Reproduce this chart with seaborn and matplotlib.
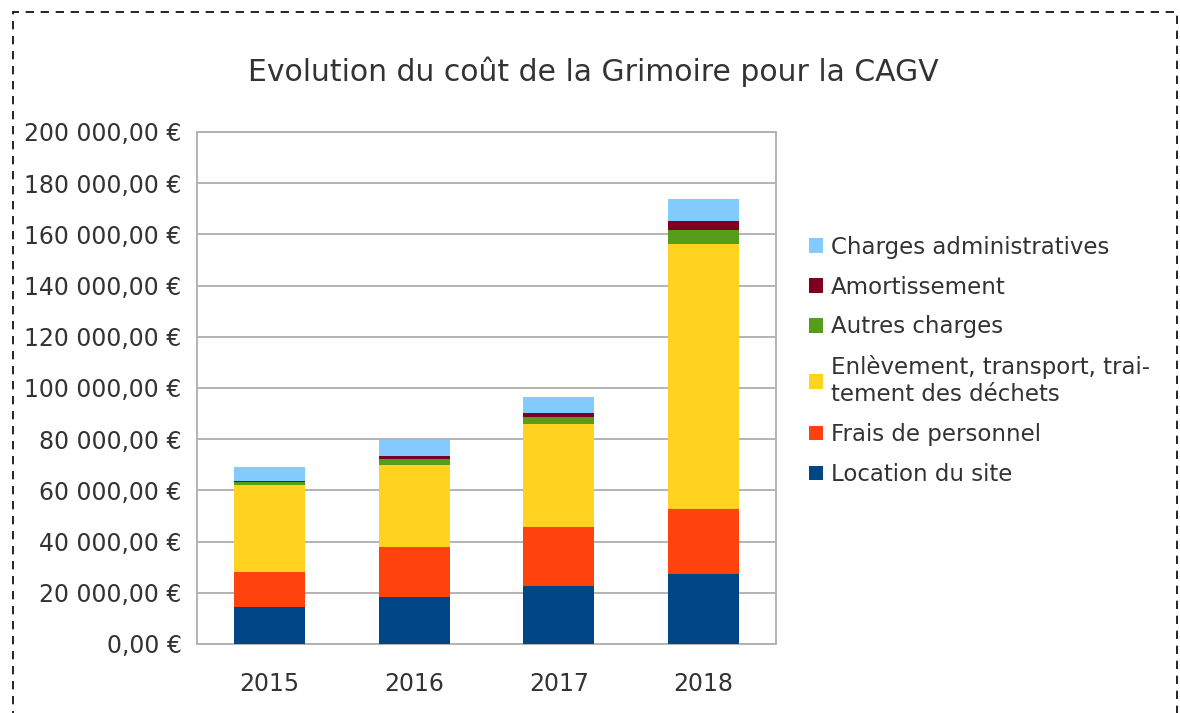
import numpy as np
import pandas as pd
import matplotlib
matplotlib.use("Agg")
import matplotlib.pyplot as plt
import seaborn as sns
from matplotlib.patches import Patch, Rectangle
from matplotlib.ticker import FuncFormatter, FixedLocator

# données (en euros)
annees = ["2015", "2016", "2017", "2018"]
location_site = [14350, 18500, 22550, 27400]
frais_personnel = [13650, 19500, 23250, 25300]
enlevement_dechets = [34200, 31900, 40100, 103600]
autres_charges = [1000, 2300, 2800, 5600]
amortissement = [600, 1300, 1500, 3500]
charges_admin = [5400, 6250, 6450, 8600]

series = ["Location du site", "Frais de personnel",
          "Enlèvement, transport, trai-\ntement des déchets",
          "Autres charges", "Amortissement", "Charges administratives"]
valeurs = [location_site, frais_personnel, enlevement_dechets,
           autres_charges, amortissement, charges_admin]
couleurs = ["#004586", "#ff420e", "#ffd320", "#579d1c", "#7e0021", "#83caff"]

sns.set_style("white")
plt.rcParams["font.family"] = ["DejaVu Sans"]

fig = plt.figure(figsize=(11.8, 7.13), dpi=100)
ax = fig.add_axes([0.1669, 0.0968, 0.4907, 0.7181])

# empilement : on dessine les cumuls du plus haut au plus bas
cumuls = np.cumsum(np.array(valeurs), axis=0)
for i in range(len(series) - 1, -1, -1):
    df = pd.DataFrame({"annee": annees, "cumul": cumuls[i]})
    sns.barplot(data=df, x="annee", y="cumul", color=couleurs[i],
                saturation=1, width=0.49, ax=ax, zorder=3,
                edgecolor="none", linewidth=0)

gris = "#b3b3b3"
ax.set_ylim(0, 200000)
ax.set_xlim(-0.5, 3.5)
ax.yaxis.set_major_locator(FixedLocator(np.arange(0, 200001, 20000)))
ax.yaxis.set_major_formatter(FuncFormatter(
    lambda v, p: f"{v:,.2f}".replace(",", " ").replace(".", ",") + " €"))
ax.grid(axis="y", color=gris, linewidth=1.4, zorder=0)
ax.set_axisbelow(True)
for s in ax.spines.values():
    s.set_color(gris)
    s.set_linewidth(1.4)
ax.set_xlabel("")
ax.set_ylabel("")
ax.tick_params(axis="y", which="major", length=9, width=1.2, color=gris,
               labelsize=17, labelcolor="#333333", pad=2)
ax.xaxis.set_minor_locator(FixedLocator([-0.5, 0.5, 1.5, 2.5, 3.5]))
ax.tick_params(axis="x", which="minor", length=9, width=1.2, color=gris)
ax.tick_params(axis="x", which="major", length=0, labelsize=17,
               labelcolor="#333333", pad=20)

fig.text(0.503, 0.9, "Evolution du coût de la Grimoire pour la CAGV",
         ha="center", va="center", fontsize=21.5, color="#333333")

handles = [Patch(facecolor=couleurs[i], edgecolor="none") for i in range(len(series) - 1, -1, -1)]
labels = [series[i] for i in range(len(series) - 1, -1, -1)]
fig.legend(handles, labels, loc="center left", bbox_to_anchor=(0.668, 0.494),
           frameon=False, fontsize=16.5, handlelength=0.6, handleheight=0.6,
           handletextpad=0.35, labelspacing=0.74, labelcolor="#333333")

# bordure pointillée
fig.patches.append(Rectangle((13 / 1180, -0.05), 1164 / 1180, 1.05 - 12 / 713,
                             transform=fig.transFigure, fill=False,
                             edgecolor="black", linestyle=(0, (5, 4)), linewidth=1.2))

fig.savefig("out.png", dpi=100)
